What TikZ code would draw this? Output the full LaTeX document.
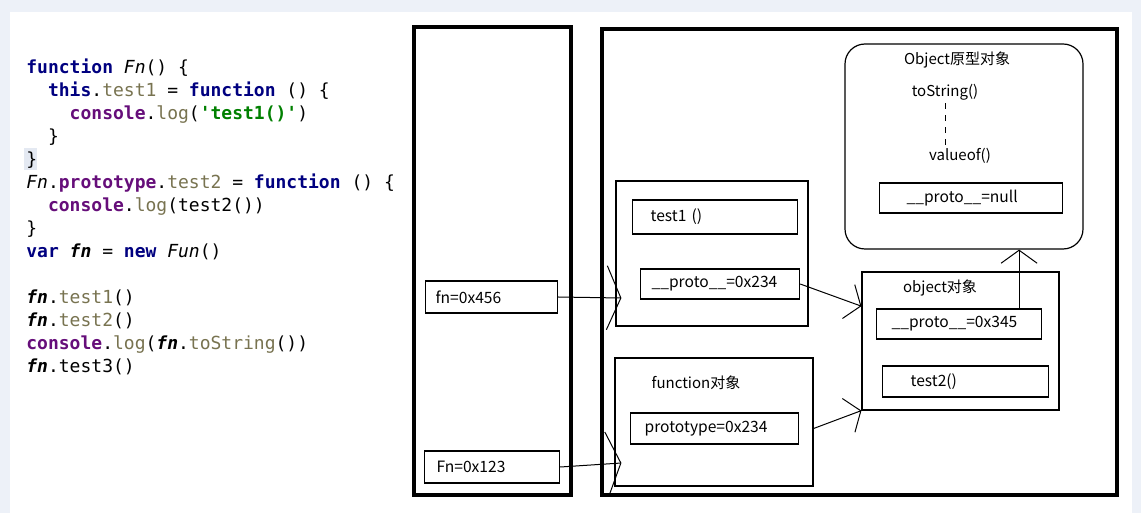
\documentclass[tikz,border=0pt]{standalone}
\usepackage{fontspec}
\setmainfont{Noto Sans CJK SC}
\setmonofont{DejaVu Sans Mono}
\usetikzlibrary{positioning}
\usetikzlibrary{calc}
\usetikzlibrary{arrows.meta}

\definecolor{bgc}{RGB}{237,241,248}
\definecolor{kwc}{RGB}{0,0,128}
\definecolor{prc}{RGB}{120,115,80}
\definecolor{cnc}{RGB}{102,14,122}
\definecolor{stc}{RGB}{0,128,0}
\definecolor{hlc}{RGB}{228,233,242}

\newcommand{\kw}[1]{\textcolor{kwc}{\textbf{#1}}}
\newcommand{\pr}[1]{\textcolor{prc}{#1}}
\newcommand{\cn}[1]{\textcolor{cnc}{\textbf{#1}}}
\newcommand{\st}[1]{\textcolor{stc}{\textbf{#1}}}
\newcommand{\vr}[1]{\textbf{\textit{#1}}}

\tikzset{
  frame/.style={draw, line width=2pt, inner sep=0pt},
  objbox/.style={draw, line width=0.6pt, inner sep=0pt},
  slot/.style={draw, line width=0.6pt, anchor=west, align=left, inner ysep=0pt,
    font=\fontsize{7.8}{9}\selectfont},
  lbl/.style={font=\fontsize{7.5}{9}\selectfont, inner sep=0pt},
  ptr/.style={-{Straight Barb[length=7pt,width=32pt]}, line width=0.5pt},
  ptrs/.style={-{Straight Barb[length=6.5pt,width=18pt]}, line width=0.5pt}
}

\begin{document}
\begin{tikzpicture}[x=0.5pt,y=-0.5pt]
\useasboundingbox (0,0) rectangle (1141,513);
\fill[bgc] (0,0) rectangle (1141,513);
\fill[white] (10,12) rectangle (1132,513);
\fill[hlc] (24,148) rectangle (37,170);

% source code
\node[anchor=north west, inner sep=0pt, align=left,
      font=\ttfamily\fontsize{9}{11.5}\selectfont] (code) at (26,58) {%
\kw{function} \textit{Fn}() \{\\
~~\kw{this}.\pr{test1} = \kw{function} () \{\\
~~~~\cn{console}.\pr{log}(\st{'test1()'})\\
~~\}\\
\}\\
\textit{Fn}.\cn{prototype}.\pr{test2} = \kw{function} () \{\\
~~\cn{console}.\pr{log}(test2())\\
\}\\
\kw{var} \vr{fn} = \kw{new} \textit{Fun}()\\
~\\
\vr{fn}.\pr{test1}()\\
\vr{fn}.\pr{test2}()\\
\cn{console}.\pr{log}(\vr{fn}.\pr{toString}())\\
\vr{fn}.test3()};

% stack and heap
\node[frame, minimum width=78.5pt, minimum height=234pt] (stack) at (492.5,261) {};
\node[frame, minimum width=257.5pt, minimum height=233pt] (heap) at (859.5,262) {};

% objects
\node[objbox, rounded corners=10pt, minimum width=119pt, minimum height=102.5pt] (protoObj) at (964,146.5) {};
\node[objbox, minimum width=96pt, minimum height=72.5pt] (fnObj) at (712,253.5) {};
\node[objbox, minimum width=99pt, minimum height=64pt] (funcObj) at (714,422) {};
\node[objbox, minimum width=98.5pt, minimum height=69pt] (objObj) at (960.5,341) {};

\node[lbl] (protoTitle) at (957,60) {Object原型对象};
\node[lbl] (toStr) at (945,92) {toString()};
\node[lbl] (valOf) at (960,156) {valueof()};
\node[lbl] (funcTitle) at (696,383) {function对象};
\node[lbl] (objTitle) at (940,288) {object对象};

% slots
\node[slot, inner xsep=5pt, text width=56pt, minimum height=16pt] (fnVar) at (425,297) {fn=0x456};
\node[slot, inner xsep=6pt, text width=55.5pt, minimum height=16pt] (FnVar) at (424,467) {Fn=0x123};
\node[slot, inner xsep=9pt, text width=64.5pt, minimum height=17pt] (test1) at (632,217) {test1 ()};
\node[slot, inner xsep=5.5pt, text width=68.5pt, minimum height=15pt] (proto234) at (640,284) {\_\_proto\_\_=0x234};
\node[slot, inner xsep=7pt, text width=70pt, minimum height=15.5pt] (protoVal) at (630,428.5) {prototype=0x234};
\node[slot, inner xsep=7.5pt, text width=67.5pt, minimum height=15pt] (proto345) at (876,324) {\_\_proto\_\_=0x345};
\node[slot, inner xsep=14pt, text width=55pt, minimum height=15.5pt] (test2) at (882,381.5) {test2()};
\node[slot, inner xsep=13.5pt, text width=64.5pt, minimum height=15pt] (protoNull) at (879,198) {\_\_proto\_\_=null};

\coordinate (up) at ($(proto345.north west)!0.861!(proto345.north east)$);

\draw[dashed, line width=0.5pt] (toStr.south) ++(0,3) -- ($(toStr.south |- valOf.north)+(0,-3)$);

\path
(fnVar.east) edge[ptr] ($(fnVar.east -| fnObj.west)+(6,1)$)
(FnVar.east) edge[ptr] ($(funcObj.west)+(7,41)$)
(proto234.east) edge[ptrs] ($(objObj.north west)!0.25!(objObj.south west)$)
(protoVal -| funcObj.east) edge[ptrs] (objObj.south west)
(up) edge[ptrs] (up |- protoObj.south);
\end{tikzpicture}
\end{document}
